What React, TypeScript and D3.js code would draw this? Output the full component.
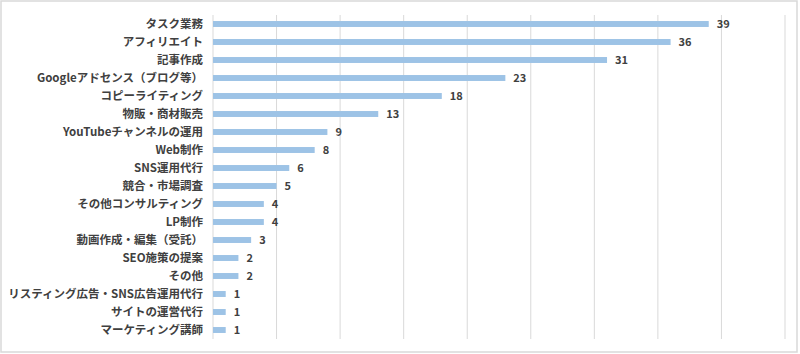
import React from "react";
import * as d3 from "d3";

const categories = [
  "タスク業務",
  "アフィリエイト",
  "記事作成",
  "Googleアドセンス（ブログ等）",
  "コピーライティング",
  "物販・商材販売",
  "YouTubeチャンネルの運用",
  "Web制作",
  "SNS運用代行",
  "競合・市場調査",
  "その他コンサルティング",
  "LP制作",
  "動画作成・編集（受託）",
  "SEO施策の提案",
  "その他",
  "リスティング広告・SNS広告運用代行",
  "サイトの運営代行",
  "マーケティング講師",
];
const values = [39, 36, 31, 23, 18, 13, 9, 8, 6, 5, 4, 4, 3, 2, 2, 1, 1, 1];
const gridTicks = [0, 5, 10, 15, 20, 25, 30, 35, 40, 45];

const W = 800;
const H = 354;
const FONT = "'Noto Sans CJK JP', 'Noto Sans', sans-serif";

export default function App() {
  const x = d3.scaleLinear().domain([0, 45]).range([213, 785]);
  const y = d3.scaleBand<string>().domain(categories).range([15, 339]).paddingInner(0.67).paddingOuter(0.335);

  return (
    <svg
      width={W}
      height={H}
      style={{ position: "absolute", left: 0, top: 0, background: "#fff" }}
    >
      <rect x={1} y={1} width={W - 4} height={H - 3} fill="#fff" stroke="#d9d9d9" strokeWidth={1.5} />
      {gridTicks.map((t) => (
        <line key={t} x1={x(t)} x2={x(t)} y1={15} y2={339} stroke="#d9d9d9" strokeWidth={1} />
      ))}
      {categories.map((c, i) => {
        const yc = (y(c) as number) + y.bandwidth() / 2;
        return (
          <g key={c}>
            <rect x={x(0)} y={y(c)} width={x(values[i]) - x(0)} height={y.bandwidth()} fill="#9dc3e6" />
            <text
              x={203}
              y={yc}
              dy="0.35em"
              textAnchor="end"
              fontFamily={FONT}
              fontSize={11.5}
              fontWeight={700}
              fill="#404040"
            >
              {c}
            </text>
            <text
              x={x(values[i]) + 8}
              y={yc}
              dy="0.35em"
              fontFamily={FONT}
              fontSize={11}
              fontWeight={700}
              fill="#404040"
            >
              {values[i]}
            </text>
          </g>
        );
      })}
    </svg>
  );
}
